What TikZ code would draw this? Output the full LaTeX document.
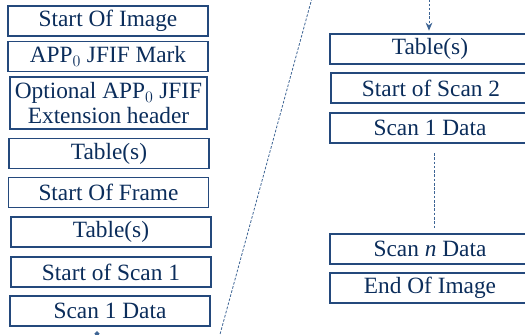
\documentclass[tikz,border=0pt]{standalone}
\usepackage{fontspec}
\setmainfont{Liberation Serif}
\usepackage{tikz}
\usetikzlibrary{arrows.meta, positioning}

\definecolor{navy}{HTML}{0B2D5B}
\definecolor{boxline}{HTML}{24497C}
\definecolor{dashline}{HTML}{3D6494}

\begin{document}
\begin{tikzpicture}[
    x=0.75pt, y=-0.75pt,
    >={Stealth[length=6pt, width=5pt]},
    font=\fontsize{17.5}{19}\selectfont,
    segment/.style={draw=boxline, rectangle, line width=1pt,
        minimum width=150pt, minimum height=22.5pt, inner sep=1pt,
        text=navy, align=center},
    skip/.style={draw=dashline, line width=0.6pt,
        dash pattern=on 2pt off 1.2pt},
]
\useasboundingbox (0,0) rectangle (525,335);

% === Left column: file start ===
\node[segment] (soi) at (108, 21) {Start Of Image};
\node[segment] (app) at (108, 56.5) {APP$_0$ JFIF Mark};
\node[segment, minimum width=147.75pt, minimum height=39pt, inner sep=0pt,
    font=\fontsize{17.5}{18.5}\selectfont] (ext) at (108.5, 103)
    {Optional APP$_0$ JFIF\\Extension header};
\node[segment] (tab1) at (109, 153.5) {Table(s)};
\node[segment] (sof) at (108.5, 192.5) {Start Of Frame};
\node[segment] (tab2) at (111, 232) {Table(s)};
\node[segment] (sos1) at (111, 272) {Start of Scan 1};
\node[segment] (data1) at (110, 311) {Scan 1 Data};

% === Continuation below left column ===
\coordinate (contL) at (97, 331);
\draw[skip, {Diamond[length=4pt, width=4pt]}-] (contL) -- ++(0, 10);

% === Break between the two halves ===
\coordinate (cutA) at (312, -2);
\coordinate (cutB) at (219, 338);
\draw[skip] (cutA) -- (cutB);

% === Right column: later scans ===
\node[segment] (tab3) at (430, 49) {Table(s)};
\node[segment] (sos2) at (431, 88) {Start of Scan 2};
\node[segment] (data2) at (430, 128) {Scan 1 Data};
\node[segment] (datan) at (430, 249) {Scan \textit{n} Data};
\node[segment] (eoi) at (430, 288) {End Of Image};

\coordinate (contR) at (429, -5);
\draw[skip, ->] (contR) -- ([yshift=2pt]contR |- tab3.north);
\draw[skip, shorten <=7pt, shorten >=4pt] ([xshift=3pt]data2.south) -- ([xshift=3pt]datan.north);

\end{tikzpicture}
\end{document}
